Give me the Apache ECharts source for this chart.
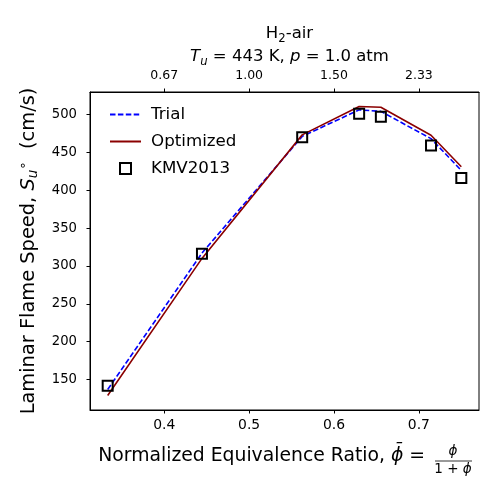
<!DOCTYPE html>
<html>
<head>
<meta charset="utf-8">
<script src="https://cdn.jsdelivr.net/npm/echarts@6/dist/echarts.min.js"></script>
<style>
  html, body { margin: 0; padding: 0; background: #fff; }
  #chart { width: 500px; height: 500px; }
</style>
</head>
<body>
<div id="chart"></div>
<script>
// normalized equivalence ratio, phi / (1 + phi)
const phiBar = [0.3333, 0.4444, 0.5625, 0.6296, 0.6552, 0.7143, 0.75];
// laminar flame speed (cm/s)
const trialSpeed = [137, 317, 471, 506, 504, 468, 426];
const optSpeed = [129, 310, 473, 510.5, 509.5, 472.5, 431];
const kmvSpeed = [142, 316, 470, 501, 497, 459, 416];

const xTicks = [0.4, 0.5, 0.6, 0.7];
const topTickLabels = ['0.67', '1.00', '1.50', '2.33'];
const yTicks = [150, 200, 250, 300, 350, 400, 450, 500];

const FONT = 'DejaVu Sans';

function zip(xs, ys) {
    return xs.map((x, i) => [x, ys[i]]);
}

// matplotlib style 5% margins around the data
const allY = trialSpeed.concat(optSpeed, kmvSpeed);
const xLo = Math.min(...phiBar), xHi = Math.max(...phiBar);
const yLo = Math.min(...allY), yHi = Math.max(...allY);
const xMin = xLo - 0.05 * (xHi - xLo), xMax = xHi + 0.05 * (xHi - xLo);
const yMin = yLo - 0.05 * (yHi - yLo), yMax = yHi + 0.05 * (yHi - yLo);

const chart = echarts.init(document.getElementById('chart'), null, {renderer: 'canvas'});

const tickLabel = {color: '#000', fontFamily: FONT, fontSize: 13.9};

const option = {
    animation: false,
    backgroundColor: '#fff',
    title: {
        left: 284.5,
        top: 17,
        textAlign: 'center',
        text: '{n|H}{sub|2}{n|-air}\n{i|T}{isub|u}{n| = 443 K, }{i|p}{n| = 1.0 atm}',
        textStyle: {
            fontWeight: 'normal',
            rich: {
                n: {fontFamily: FONT, fontSize: 16.5, fontWeight: 'normal', color: '#000', lineHeight: 23},
                i: {fontFamily: FONT, fontSize: 16.5, fontWeight: 'normal', fontStyle: 'italic', color: '#000', lineHeight: 23},
                sub: {fontFamily: FONT, fontSize: 11.7, fontWeight: 'normal', color: '#000', lineHeight: 14, verticalAlign: 'bottom'},
                isub: {fontFamily: FONT, fontSize: 11.7, fontWeight: 'normal', fontStyle: 'italic', color: '#000', lineHeight: 14, verticalAlign: 'bottom'}
            }
        }
    },
    grid: {
        left: 90,
        right: 21,
        top: 92,
        bottom: 90,
        show: true,
        borderColor: '#000',
        borderWidth: 1,
        backgroundColor: 'transparent'
    },
    legend: {
        orient: 'vertical',
        left: 104,
        top: 100,
        itemWidth: 31,
        itemHeight: 11,
        itemGap: 8,
        data: [
            {name: 'Trial', itemStyle: {opacity: 0}},
            {name: 'Optimized', itemStyle: {opacity: 0}},
            {name: 'KMV2013', icon: 'path://M0 0H10V10H0Z'}
        ],
        textStyle: {
            fontFamily: FONT,
            fontSize: 16.7,
            color: '#000',
            lineHeight: 19,
            padding: [0, 0, 0, 5]
        }
    },
    xAxis: [
        {
            type: 'value',
            min: xMin,
            max: xMax,
            position: 'bottom',
            splitLine: {show: false},
            axisLine: {show: true, lineStyle: {color: '#000', width: 1}},
            axisTick: {show: true, length: 3.5, customValues: xTicks, lineStyle: {color: '#000'}},
            axisLabel: Object.assign({margin: 8, customValues: xTicks}, tickLabel)
        },
        {
            type: 'value',
            min: xMin,
            max: xMax,
            position: 'top',
            splitLine: {show: false},
            axisLine: {show: true, lineStyle: {color: '#000', width: 1}},
            axisTick: {show: true, length: 3.5, customValues: xTicks, lineStyle: {color: '#000'}},
            axisLabel: {
                margin: 10,
                customValues: xTicks,
                color: '#000',
                fontFamily: FONT,
                fontSize: 12.5,
                formatter: function (v) {
                    let k = xTicks.findIndex(t => Math.abs(t - v) < 1e-6);
                    return k < 0 ? '' : topTickLabels[k];
                }
            }
        }
    ],
    yAxis: {
        type: 'value',
        min: yMin,
        max: yMax,
        splitLine: {show: false},
        axisLine: {show: true, lineStyle: {color: '#000', width: 1}},
        axisTick: {show: true, length: 3.5, customValues: yTicks, lineStyle: {color: '#000'}},
        axisLabel: {margin: 13, customValues: yTicks, color: '#000', fontFamily: FONT, fontSize: 13.2},
        name: '{n|Laminar Flame Speed, }{i|S}{sub|u}{sup|∘}{n|  (cm/s)}',
        nameLocation: 'middle',
        nameRotate: 90,
        nameGap: 49,
        nameTextStyle: {
            rich: {
                n: {fontFamily: FONT, fontSize: 19.4, color: '#000', lineHeight: 24},
                i: {fontFamily: FONT, fontSize: 19.4, fontStyle: 'italic', color: '#000', lineHeight: 24},
                sub: {fontFamily: FONT, fontSize: 13.5, fontStyle: 'italic', color: '#000', lineHeight: 15, verticalAlign: 'bottom'},
                sup: {fontFamily: FONT, fontSize: 13.5, color: '#000', lineHeight: 15, verticalAlign: 'top'}
            }
        }
    },
    // x label with the stacked fraction
    graphic: [
        {
            type: 'text',
            style: {
                x: 431,
                y: 456,
                align: 'right',
                verticalAlign: 'middle',
                textAlign: 'right',
                textVerticalAlign: 'middle',
                text: '{n|Normalized Equivalence Ratio, }{i|\u03d5\u0304}{n| = }',
                rich: {
                    n: {fontFamily: FONT, fontSize: 18.8, fill: '#000', color: '#000'},
                    i: {fontFamily: FONT, fontSize: 18.8, fontStyle: 'italic', fill: '#000', color: '#000'}
                }
            }
        },
        {
            type: 'text',
            style: {
                x: 453, y: 451, align: 'center', verticalAlign: 'middle',
                textAlign: 'center', textVerticalAlign: 'middle',
                text: '\u03d5', fontFamily: FONT, fontSize: 13.5, fontStyle: 'italic', fill: '#000'
            }
        },
        {
            type: 'line',
            shape: {x1: 435, y1: 461, x2: 472, y2: 461},
            style: {stroke: '#000', lineWidth: 0.8}
        },
        {
            type: 'text',
            style: {
                x: 453, y: 469, align: 'center', verticalAlign: 'middle',
                textAlign: 'center', textVerticalAlign: 'middle',
                text: '{n|1 + }{i|\u03d5}',
                rich: {
                    n: {fontFamily: FONT, fontSize: 13.5, fill: '#000', color: '#000'},
                    i: {fontFamily: FONT, fontSize: 13.5, fontStyle: 'italic', fill: '#000', color: '#000'}
                }
            }
        }
    ],
    series: [
        {
            name: 'Trial',
            type: 'line',
            data: zip(phiBar, trialSpeed),
            symbol: 'none',
            itemStyle: {color: '#0000ff'},
            lineStyle: {color: '#0000ff', width: 1.6, type: [5.5, 2.4]},
            z: 2
        },
        {
            name: 'Optimized',
            type: 'line',
            data: zip(phiBar, optSpeed),
            symbol: 'none',
            itemStyle: {color: '#8b0000'},
            lineStyle: {color: '#8b0000', width: 1.6},
            z: 3
        },
        {
            name: 'KMV2013',
            type: 'scatter',
            data: zip(phiBar, kmvSpeed),
            symbol: 'rect',
            symbolSize: 10,
            itemStyle: {color: 'rgba(0,0,0,0)', borderColor: '#000', borderWidth: 2, opacity: 1},
            z: 4
        }
    ]
};

chart.setOption(option);
</script>
</body>
</html>
